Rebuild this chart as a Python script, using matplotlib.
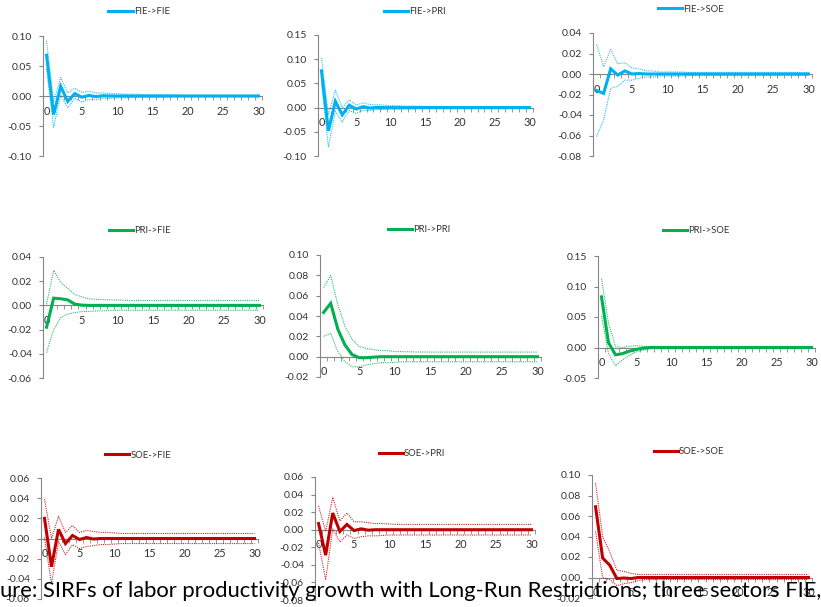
import matplotlib.pyplot as plt
import matplotlib.ticker as mticker
from matplotlib.lines import Line2D

plt.rcParams['font.family'] = ['Lato', 'DejaVu Sans']

# horizon 0..30
periods = list(range(31))

# ---- FIE shock (blue) ----
fie_fie = [0.068, -0.031, 0.016, -0.009, 0.004, -0.002, 0.001, -0.001, 0.0005, 0.0, 0.0,
           0.0, 0.0, 0.0, 0.0, 0.0, 0.0, 0.0, 0.0, 0.0, 0.0,
           0.0, 0.0, 0.0, 0.0, 0.0, 0.0, 0.0, 0.0, 0.0, 0.0]
fie_fie_up = [0.092, -0.010, 0.031, 0.005, 0.013, 0.006, 0.008, 0.005, 0.005, 0.004, 0.004,
              0.003, 0.003, 0.003, 0.002, 0.002, 0.002, 0.002, 0.002, 0.001, 0.001,
              0.001, 0.001, 0.001, 0.001, 0.001, 0.001, 0.001, 0.001, 0.001, 0.001]
fie_fie_lo = [0.045, -0.052, 0.001, -0.020, -0.004, -0.010, -0.006, -0.006, -0.004, -0.004, -0.003,
              -0.003, -0.003, -0.002, -0.002, -0.002, -0.002, -0.002, -0.001, -0.001, -0.001,
              -0.001, -0.001, -0.001, -0.001, -0.001, -0.001, -0.001, -0.001, -0.001, -0.001]

fie_pri = [0.076, -0.048, 0.013, -0.015, 0.005, -0.003, 0.002, -0.001, 0.0005, 0.0, 0.0,
           0.0, 0.0, 0.0, 0.0, 0.0, 0.0, 0.0, 0.0, 0.0, 0.0,
           0.0, 0.0, 0.0, 0.0, 0.0, 0.0, 0.0, 0.0, 0.0, 0.0]
fie_pri_up = [0.103, -0.015, 0.036, 0.000, 0.016, 0.005, 0.010, 0.006, 0.006, 0.005, 0.004,
              0.004, 0.003, 0.003, 0.003, 0.002, 0.002, 0.002, 0.002, 0.002, 0.002,
              0.002, 0.002, 0.002, 0.002, 0.002, 0.002, 0.002, 0.002, 0.002, 0.002]
fie_pri_lo = [0.050, -0.082, -0.008, -0.030, -0.006, -0.012, -0.006, -0.006, -0.004, -0.004, -0.003,
              -0.003, -0.003, -0.003, -0.002, -0.002, -0.002, -0.002, -0.002, -0.002, -0.002,
              -0.002, -0.002, -0.002, -0.002, -0.002, -0.002, -0.002, -0.002, -0.002, -0.002]

fie_soe = [-0.016, -0.019, 0.005, -0.001, 0.003, 0.000, 0.0005, 0.0, 0.0, 0.0, 0.0,
           0.0, 0.0, 0.0, 0.0, 0.0, 0.0, 0.0, 0.0, 0.0, 0.0,
           0.0, 0.0, 0.0, 0.0, 0.0, 0.0, 0.0, 0.0, 0.0, 0.0]
fie_soe_up = [0.029, 0.007, 0.024, 0.010, 0.011, 0.006, 0.005, 0.003, 0.003, 0.002, 0.002,
              0.002, 0.002, 0.0015, 0.0015, 0.0015, 0.0015, 0.0015, 0.0015, 0.0015, 0.0015,
              0.0015, 0.0015, 0.0015, 0.0015, 0.0015, 0.0015, 0.0015, 0.0015, 0.0015, 0.0015]
fie_soe_lo = [-0.061, -0.045, -0.014, -0.012, -0.006, -0.006, -0.004, -0.003, -0.003, -0.002, -0.002,
              -0.002, -0.002, -0.0015, -0.0015, -0.0015, -0.0015, -0.0015, -0.0015, -0.0015, -0.0015,
              -0.0015, -0.0015, -0.0015, -0.0015, -0.0015, -0.0015, -0.0015, -0.0015, -0.0015, -0.0015]

# ---- PRI shock (green) ----
pri_fie = [-0.018, 0.006, 0.0055, 0.0045, 0.001, 0.0002, 0.0, 0.0, 0.0, 0.0, 0.0,
           0.0, 0.0, 0.0, 0.0, 0.0, 0.0, 0.0, 0.0, 0.0, 0.0,
           0.0, 0.0, 0.0, 0.0, 0.0, 0.0, 0.0, 0.0, 0.0, 0.0]
pri_fie_up = [0.001, 0.029, 0.019, 0.014, 0.009, 0.007, 0.0055, 0.005, 0.0048, 0.0045, 0.0045,
              0.0042, 0.004, 0.004, 0.004, 0.004, 0.004, 0.004, 0.004, 0.004, 0.004,
              0.004, 0.004, 0.004, 0.004, 0.004, 0.004, 0.004, 0.004, 0.004, 0.004]
pri_fie_lo = [-0.039, -0.020, -0.010, -0.007, -0.006, -0.005, -0.005, -0.0045, -0.0045, -0.0042, -0.004,
              -0.004, -0.004, -0.004, -0.004, -0.004, -0.004, -0.004, -0.004, -0.004, -0.004,
              -0.004, -0.004, -0.004, -0.004, -0.004, -0.004, -0.004, -0.004, -0.004, -0.004]

pri_pri = [0.0435, 0.0525, 0.027, 0.0115, 0.002, -0.001, -0.001, -0.0005, 0.0, 0.0, 0.0,
           0.0, 0.0, 0.0, 0.0, 0.0, 0.0, 0.0, 0.0, 0.0, 0.0,
           0.0, 0.0, 0.0, 0.0, 0.0, 0.0, 0.0, 0.0, 0.0, 0.0]
pri_pri_up = [0.068, 0.080, 0.051, 0.030, 0.017, 0.010, 0.008, 0.007, 0.006, 0.006, 0.005,
              0.005, 0.0048, 0.0046, 0.0046, 0.0045, 0.0045, 0.0045, 0.0045, 0.0045, 0.0045,
              0.0045, 0.0045, 0.0045, 0.0045, 0.0045, 0.0045, 0.0045, 0.0045, 0.0045, 0.0045]
pri_pri_lo = [0.020, 0.023, 0.005, -0.005, -0.010, -0.010, -0.008, -0.007, -0.006, -0.006, -0.0055,
              -0.005, -0.005, -0.005, -0.005, -0.005, -0.005, -0.005, -0.005, -0.005, -0.005,
              -0.005, -0.005, -0.005, -0.005, -0.005, -0.005, -0.005, -0.005, -0.005, -0.005]

pri_soe = [0.083, 0.008, -0.012, -0.010, -0.006, -0.003, -0.001, 0.0, 0.0, 0.0, 0.0,
           0.0, 0.0, 0.0, 0.0, 0.0, 0.0, 0.0, 0.0, 0.0, 0.0,
           0.0, 0.0, 0.0, 0.0, 0.0, 0.0, 0.0, 0.0, 0.0, 0.0]
pri_soe_up = [0.113, 0.040, 0.002, 0.000, 0.002, 0.003, 0.002, 0.001, 0.001, 0.0005, 0.0005,
              0.0005, 0.0005, 0.0005, 0.0005, 0.0005, 0.0005, 0.0005, 0.0005, 0.0005, 0.0005,
              0.0005, 0.0005, 0.0005, 0.0005, 0.0005, 0.0005, 0.0005, 0.0005, 0.0005, 0.0005]
pri_soe_lo = [0.052, -0.010, -0.030, -0.020, -0.013, -0.007, -0.004, -0.002, -0.001, -0.0005, -0.0005,
              -0.0005, -0.0005, -0.0005, -0.0005, -0.0005, -0.0005, -0.0005, -0.0005, -0.0005, -0.0005,
              -0.0005, -0.0005, -0.0005, -0.0005, -0.0005, -0.0005, -0.0005, -0.0005, -0.0005, -0.0005]

# ---- SOE shock (red) ----
soe_fie = [0.020, -0.028, 0.009, -0.005, 0.003, -0.001, 0.001, -0.0005, 0.0, 0.0, 0.0,
           0.0, 0.0, 0.0, 0.0, 0.0, 0.0, 0.0, 0.0, 0.0, 0.0,
           0.0, 0.0, 0.0, 0.0, 0.0, 0.0, 0.0, 0.0, 0.0, 0.0]
soe_fie_up = [0.039, 0.000, 0.022, 0.006, 0.013, 0.006, 0.008, 0.007, 0.006, 0.006, 0.0055,
              0.005, 0.005, 0.005, 0.005, 0.005, 0.005, 0.005, 0.005, 0.005, 0.005,
              0.005, 0.005, 0.005, 0.005, 0.005, 0.005, 0.005, 0.005, 0.005, 0.005]
soe_fie_lo = [0.001, -0.045, -0.003, -0.016, -0.006, -0.010, -0.008, -0.007, -0.006, -0.006, -0.0055,
              -0.005, -0.005, -0.005, -0.005, -0.005, -0.005, -0.005, -0.005, -0.005, -0.005,
              -0.005, -0.005, -0.005, -0.005, -0.005, -0.005, -0.005, -0.005, -0.005, -0.005]

soe_pri = [0.007, -0.029, 0.019, -0.002, 0.006, -0.001, 0.001, -0.0005, 0.0, 0.0, 0.0,
           0.0, 0.0, 0.0, 0.0, 0.0, 0.0, 0.0, 0.0, 0.0, 0.0,
           0.0, 0.0, 0.0, 0.0, 0.0, 0.0, 0.0, 0.0, 0.0, 0.0]
soe_pri_up = [0.027, -0.002, 0.037, 0.010, 0.019, 0.009, 0.009, 0.008, 0.007, 0.007, 0.0065,
              0.006, 0.006, 0.006, 0.006, 0.006, 0.006, 0.006, 0.006, 0.006, 0.006,
              0.006, 0.006, 0.006, 0.006, 0.006, 0.006, 0.006, 0.006, 0.006, 0.006]
soe_pri_lo = [-0.015, -0.057, 0.001, -0.014, -0.006, -0.010, -0.008, -0.007, -0.007, -0.0065, -0.006,
              -0.006, -0.006, -0.006, -0.006, -0.006, -0.006, -0.006, -0.006, -0.006, -0.006,
              -0.006, -0.006, -0.006, -0.006, -0.006, -0.006, -0.006, -0.006, -0.006, -0.006]

soe_soe = [0.069, 0.019, 0.012, -0.001, -0.0005, -0.001, 0.0, 0.0, 0.0, 0.0, 0.0,
           0.0, 0.0, 0.0, 0.0, 0.0, 0.0, 0.0, 0.0, 0.0, 0.0,
           0.0, 0.0, 0.0, 0.0, 0.0, 0.0, 0.0, 0.0, 0.0, 0.0]
soe_soe_up = [0.092, 0.040, 0.025, 0.007, 0.006, 0.004, 0.003, 0.003, 0.003, 0.003, 0.003,
              0.003, 0.003, 0.003, 0.003, 0.003, 0.003, 0.003, 0.003, 0.003, 0.003,
              0.003, 0.003, 0.003, 0.003, 0.003, 0.003, 0.003, 0.003, 0.003, 0.003]
soe_soe_lo = [0.045, 0.000, -0.002, -0.008, -0.006, -0.005, -0.003, -0.002, -0.002, -0.002, -0.002,
              -0.002, -0.002, -0.002, -0.002, -0.002, -0.002, -0.002, -0.002, -0.002, -0.002,
              -0.002, -0.002, -0.002, -0.002, -0.002, -0.002, -0.002, -0.002, -0.002, -0.002]

titles = ["FIE->FIE", "FIE->PRI", "FIE->SOE",
          "PRI->FIE", "PRI->PRI", "PRI->SOE",
          "SOE->FIE", "SOE->PRI", "SOE->SOE"]
irfs = [fie_fie, fie_pri, fie_soe, pri_fie, pri_pri, pri_soe, soe_fie, soe_pri, soe_soe]
uppers = [fie_fie_up, fie_pri_up, fie_soe_up, pri_fie_up, pri_pri_up, pri_soe_up,
          soe_fie_up, soe_pri_up, soe_soe_up]
lowers = [fie_fie_lo, fie_pri_lo, fie_soe_lo, pri_fie_lo, pri_pri_lo, pri_soe_lo,
          soe_fie_lo, soe_pri_lo, soe_soe_lo]
y_limits = [(-0.10, 0.10), (-0.10, 0.15), (-0.08, 0.04),
            (-0.06, 0.04), (-0.02, 0.10), (-0.05, 0.15),
            (-0.06, 0.06), (-0.08, 0.06), (-0.02, 0.10)]
y_steps = [0.05, 0.05, 0.02, 0.02, 0.02, 0.05, 0.02, 0.02, 0.02]
colors = ["#00B0F0"] * 3 + ["#00B050"] * 3 + ["#C00000"] * 3

# plot boxes in pixels: left, right, top, bottom
boxes = [(43, 262, 36, 156), (318, 533, 35, 156), (593, 812, 33, 156),
         (43, 263, 257, 378), (320, 541, 255, 377), (598, 815, 256, 378),
         (41, 258, 478, 599), (315, 535, 477, 600), (592, 812, 475, 598)]
# legend centres in pixels
leg_pos = [(139, 12), (415, 12), (691, 9),
           (140, 231), (419, 230), (696, 231),
           (138, 455), (412, 454), (689, 452)]

W, H = 821, 607
fig = plt.figure(figsize=(W / 100, H / 100), dpi=100)
axis_grey = "#868686"

for i in range(9):
    l, r, t, b = boxes[i]
    ax = fig.add_axes([l / W, 1 - b / H, (r - l) / W, (b - t) / H])
    c = colors[i]
    ax.plot(periods, uppers[i], color=c, lw=0.8, ls=(0, (1, 1)), alpha=0.85)
    ax.plot(periods, lowers[i], color=c, lw=0.8, ls=(0, (1, 1)), alpha=0.85)
    line, = ax.plot(periods, irfs[i], color=c, lw=2.2, solid_joinstyle="miter")

    ax.set_xlim(-0.5, 30.5)
    ax.set_ylim(*y_limits[i])
    ax.yaxis.set_major_locator(mticker.MultipleLocator(y_steps[i]))
    ax.yaxis.set_major_formatter(mticker.FormatStrFormatter("%.2f"))
    ax.xaxis.set_major_locator(mticker.FixedLocator([0, 5, 10, 15, 20, 25, 30]))
    ax.xaxis.set_minor_locator(mticker.FixedLocator([k - 0.5 for k in range(32)]))

    for s in ["top", "right"]:
        ax.spines[s].set_visible(False)
    ax.spines["left"].set_color(axis_grey)
    ax.spines["left"].set_linewidth(0.8)
    ax.spines["bottom"].set_position(("data", 0))
    ax.spines["bottom"].set_color(axis_grey)
    ax.spines["bottom"].set_linewidth(0.8)
    ax.spines["bottom"].set_zorder(0.5)

    ax.tick_params(axis="y", length=3, width=0.8, color=axis_grey, pad=5,
                   labelsize=7.5, labelcolor="#333333")
    ax.tick_params(axis="x", which="major", length=0, pad=7,
                   labelsize=7.8, labelcolor="#333333")
    ax.tick_params(axis="x", which="minor", length=3, width=0.6, color=axis_grey)
    ax.patch.set_alpha(0)

    cx, cy = leg_pos[i]
    ax.legend([Line2D([0], [0], color=c, lw=2.2)], [titles[i]], loc="center",
              bbox_to_anchor=(cx / W, 1 - cy / H), bbox_transform=fig.transFigure,
              frameon=False, fontsize=6.8, handlelength=2.6, handletextpad=0.1,
              borderpad=0, labelcolor="#333333")

# caption of the slide, cut off at the left edge
fig.text(0.0, 1 - 597 / H,
         "ure: SIRFs of labor productivity growth with Long-Run Restrictions; three sectors FIE,",
         fontsize=15.8, color="black", ha="left", va="baseline", zorder=10)

plt.savefig("out.png", dpi=100)
